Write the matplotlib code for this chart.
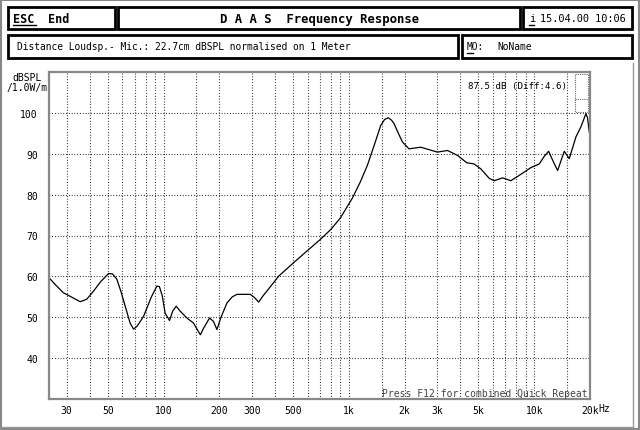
import matplotlib.pyplot as plt
from matplotlib.patches import Rectangle
from matplotlib.ticker import FixedLocator, NullFormatter

# measured response (Hz, dB SPL)
freq = [24.4, 26.3, 28.8, 32, 35.5, 38.5, 41.9, 46, 50.5, 53, 56, 59, 62.1, 66, 68.9, 72,
        78, 86, 92, 95, 98.5, 102, 107.7, 112, 117, 123,
        133.7, 145, 152, 158, 164, 177, 186, 194, 205, 220, 235, 249, 294, 310, 326, 345,
        370, 419, 505, 608, 700, 800, 900, 1043, 1150,
        1257, 1380, 1484, 1560, 1633, 1700, 1751, 1850, 1944, 2110, 2441, 3006, 3404, 3854,
        4327, 4741, 5152, 5715, 6081, 6750, 7480, 8298, 9594, 10640, 11300, 11960, 12700,
        13380, 14000, 14530, 15460, 16790, 17870, 19010, 19400, 19820]
spl = [59.4, 57.8, 56.0, 54.9, 53.8, 54.4, 56.4, 58.8, 60.7, 60.6, 59.3, 56.2, 52.7, 48.6,
       47.1, 47.8, 50.2, 55.0, 57.6, 57.5, 55.2, 51.0, 49.2, 51.5, 52.7, 51.5,
       49.8, 48.6, 47.0, 45.7, 47.2, 49.8, 49.0, 47.0, 50.2, 53.5, 55.0, 55.6, 55.6, 54.8,
       53.7, 55.3, 57.0, 60.1, 63.4, 66.6, 69.0, 71.5, 74.3, 79.1, 83.0,
       87.1, 92.5, 96.9, 98.4, 98.8, 98.2, 97.4, 95.0, 92.9, 91.2, 91.6, 90.4, 90.8, 89.6,
       87.8, 87.5, 86.3, 84.0, 83.4, 84.1, 83.4, 84.7, 86.6, 87.5, 89.3, 90.6, 88.0,
       85.9, 88.5, 90.6, 88.8, 94.1, 96.6, 99.8, 98.8, 95.3]

label_ticks = [30, 50, 100, 200, 300, 500, 1000, 2000, 3000, 5000, 10000, 20000]
label_text = ['30', '50', '100', '200', '300', '500', '1k', '2k', '3k', '5k', '10k', '20k']
grid_minor = [40, 60, 70, 80, 90, 150, 400, 600, 700, 800, 900, 1500, 4000, 6000,
              7000, 8000, 9000, 15000]
y_ticks = [40, 50, 60, 70, 80, 90, 100]

mono = 'DejaVu Sans Mono'
fig = plt.figure(figsize=(6.4, 4.31), dpi=100)

ax = fig.add_axes([49 / 640, 1 - 400 / 431, 541 / 640, 327 / 431])
ax.plot(freq, spl, color='black', lw=0.9)
ax.set_xscale('log')
ax.set_xlim(24.1, 20000)
ax.set_ylim(30, 110)
ax.xaxis.set_major_locator(FixedLocator(label_ticks))
ax.xaxis.set_minor_locator(FixedLocator(grid_minor))
ax.xaxis.set_minor_formatter(NullFormatter())
ax.set_xticklabels(label_text, fontfamily=mono, fontsize=7)
ax.set_yticks(y_ticks)
ax.set_yticklabels([str(v) for v in y_ticks], fontfamily=mono, fontsize=7)
ax.tick_params(which='both', length=0)
ax.tick_params(axis='y', pad=8)
ax.tick_params(axis='x', pad=4)
dots = (0, (0.7, 1.8))
ax.grid(True, which='both', color='black', lw=0.8, linestyle=dots)
for s in ax.spines.values():
    s.set_color('#888888')
    s.set_linewidth(1.6)

# overlay in pixel coordinates for the frame, header boxes and notes
ov = fig.add_axes([0, 0, 1, 1], zorder=5)
ov.set_xlim(0, 640)
ov.set_ylim(431, 0)
ov.axis('off')
ov.patch.set_alpha(0)

ov.add_patch(Rectangle((0.8, 0.8), 638.4, 429.4, fill=False, ec='#888888', lw=1.5))
ov.plot([633, 633], [64, 428], color='#999999', lw=1)
ov.plot([1, 633], [428, 428], color='#999999', lw=1)

for x0, y0, x1, y1 in [(8, 8, 115, 30), (118, 8, 520, 30), (523, 8, 632, 30),
                       (8, 36, 458, 59), (462, 36, 632, 59)]:
    ov.add_patch(Rectangle((x0, y0), x1 - x0, y1 - y0, fill=False, ec='black', lw=2))

ov.text(13, 19.5, 'ESC', fontfamily=mono, fontweight='bold', fontsize=8.5, va='center')
ov.plot([13, 36], [26, 26], color='black', lw=1)
ov.text(48, 19.5, 'End', fontfamily=mono, fontweight='bold', fontsize=8.5, va='center')
ov.text(320, 19.5, 'D A A S  Frequency Response', fontfamily=mono, fontweight='bold',
        fontsize=8.8, ha='center', va='center')
ov.text(529, 19.5, 'i', fontfamily=mono, fontsize=7.4, va='center')
ov.plot([529, 534], [26, 26], color='black', lw=1)
ov.text(540, 19.5, '15.04.00 10:06', fontfamily=mono, fontsize=7.4, va='center')
ov.text(17, 47.5, 'Distance Loudsp.- Mic.: 22.7cm dBSPL normalised on 1 Meter',
        fontfamily=mono, fontsize=6.9, va='center')
ov.text(467, 47.5, 'MO:', fontfamily=mono, fontsize=6.9, va='center')
ov.plot([467, 473], [54, 54], color='black', lw=1)
ov.text(497, 47.5, 'NoName', fontfamily=mono, fontsize=6.9, va='center')

ov.text(27, 78, 'dBSPL', fontfamily=mono, fontsize=7, ha='center', va='center')
ov.text(27, 88, '/1.0W/m', fontfamily=mono, fontsize=7, ha='center', va='center')
ov.text(598, 409, 'Hz', fontfamily=mono, fontsize=7, va='center')

ov.text(567, 86, '87.5 dB (Diff:4.6)', fontfamily=mono, fontsize=6.6, ha='right',
        va='center')
ov.add_patch(Rectangle((575, 75), 13, 38, fill=False, ec='#666666', lw=0.8,
                       linestyle=(0, (1, 1))))
ov.plot([575, 588], [100, 100], color='#666666', lw=0.8, linestyle=(0, (1, 1)))
ov.text(588, 399, 'Press F12 for combined Quick Repeat', fontfamily=mono, fontsize=7,
        color='#444444', ha='right', va='bottom')

fig.savefig('out.png', dpi=100)
